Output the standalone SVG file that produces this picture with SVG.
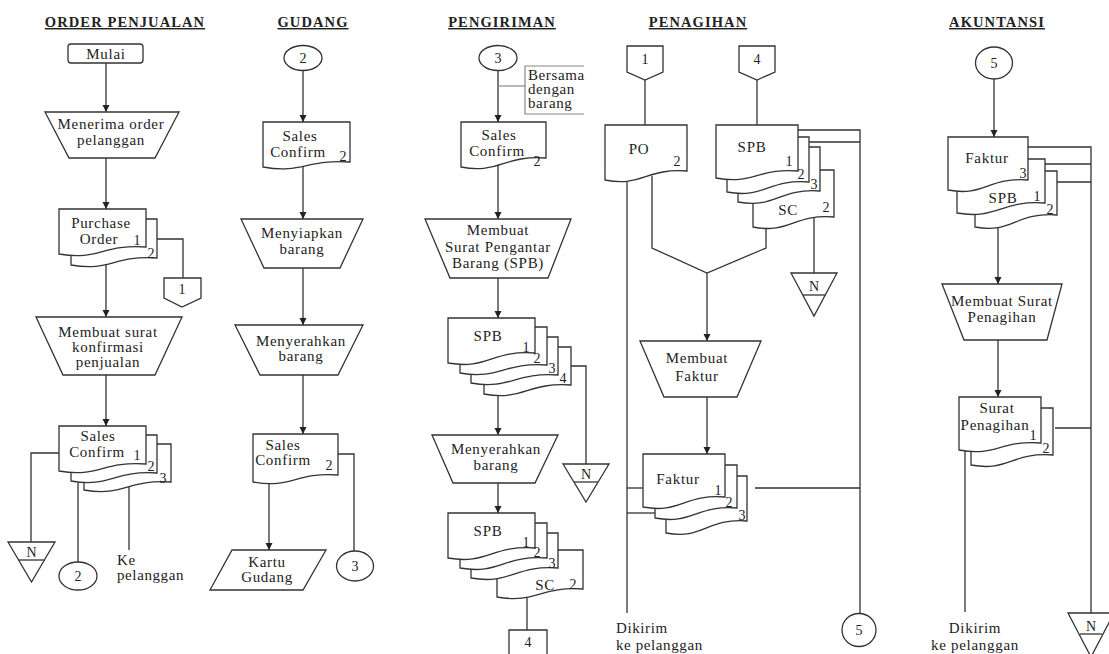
<svg xmlns="http://www.w3.org/2000/svg" width="1109" height="654" viewBox="0 0 1109 654">
<defs>
<marker id="ah" markerUnits="userSpaceOnUse" markerWidth="8" markerHeight="8" refX="7" refY="4" orient="auto">
<path d="M0,0.5 L7,4 L0,7.5 z" fill="#222"/>
</marker>
</defs>
<style>
.s{fill:#fff;stroke:#333;stroke-width:1.3}
.l{fill:none;stroke:#333;stroke-width:1.3}
.la{fill:none;stroke:#333;stroke-width:1.3;marker-end:url(#ah)}
.g{fill:none;stroke:#888;stroke-width:1.2}
text{font-family:"Liberation Serif","DejaVu Serif","Times New Roman",serif;fill:#222}
.t{font-size:15px;text-anchor:middle;letter-spacing:0.7px}
.ts{font-size:15px;letter-spacing:0.6px}
.n{font-size:14px;text-anchor:middle}
.h{font-size:14.5px;font-weight:bold;text-anchor:middle;text-decoration:underline;letter-spacing:1.1px}
</style>
<rect width="1109" height="654" fill="#fff"/>

<g id="titles">
<text class="h" x="125" y="27">ORDER PENJUALAN</text>
<text class="h" x="313" y="27">GUDANG</text>
<text class="h" x="502" y="27">PENGIRIMAN</text>
<text class="h" x="698" y="27">PENAGIHAN</text>
<text class="h" x="997" y="27">AKUNTANSI</text>
</g>

<g id="connectors">
<!-- column 1 -->
<line class="la" x1="106" y1="63" x2="106" y2="112"/>
<line class="la" x1="106" y1="158" x2="106" y2="209"/>
<polyline class="l" points="157,239 183,239 183,278"/>
<line class="la" x1="106" y1="264" x2="106" y2="317"/>
<line class="la" x1="106" y1="375" x2="106" y2="426"/>
<polyline class="l" points="59,453 31,453 31,542"/>
<line class="l" x1="78" y1="483" x2="78" y2="562"/>
<line class="l" x1="129" y1="485" x2="129" y2="550"/>
<!-- column 2 -->
<line class="la" x1="303" y1="70" x2="303" y2="122"/>
<line class="la" x1="303" y1="164" x2="303" y2="219"/>
<line class="la" x1="303" y1="268" x2="303" y2="325"/>
<line class="la" x1="303" y1="375" x2="303" y2="434"/>
<polyline class="l" points="338,454 354,454 354,551"/>
<line class="la" x1="269" y1="482" x2="269" y2="550"/>
<!-- column 3 -->
<line class="la" x1="498" y1="70" x2="498" y2="122"/>
<line class="g" x1="498" y1="86" x2="525" y2="86"/>
<polyline class="g" points="584,66 525,66 525,114 584,114"/>
<line class="la" x1="498" y1="165" x2="498" y2="219"/>
<line class="la" x1="498" y1="278" x2="498" y2="318"/>
<polyline class="l" points="571,366 586,366 586,464"/>
<line class="la" x1="498" y1="393" x2="498" y2="435"/>
<line class="la" x1="498" y1="483" x2="498" y2="513"/>
<line class="l" x1="527" y1="594" x2="527" y2="630"/>
<!-- column 4 -->
<line class="l" x1="645" y1="80" x2="645" y2="125"/>
<line class="l" x1="757" y1="80" x2="757" y2="125"/>
<polyline class="l" points="798,130 860,130 860,613"/>
<line class="l" x1="809" y1="142" x2="860" y2="142"/>
<line class="l" x1="627" y1="180" x2="627" y2="613"/>
<polyline class="l" points="652,176 652,248 707,273 766,248 766,226"/>
<line class="la" x1="707" y1="273" x2="707" y2="341"/>
<line class="l" x1="814" y1="216" x2="814" y2="273"/>
<line class="la" x1="707" y1="397" x2="707" y2="454"/>
<line class="l" x1="627" y1="488" x2="643" y2="488"/>
<line class="l" x1="627" y1="513" x2="655" y2="513"/>
<line class="l" x1="755" y1="488" x2="860" y2="488"/>
<!-- column 5 -->
<line class="la" x1="994" y1="79" x2="994" y2="137"/>
<polyline class="l" points="1028,147 1091,147 1091,613"/>
<line class="l" x1="1045" y1="164" x2="1091" y2="164"/>
<line class="l" x1="1057" y1="182" x2="1091" y2="182"/>
<line class="la" x1="998" y1="225" x2="998" y2="284"/>
<line class="la" x1="998" y1="340" x2="998" y2="397"/>
<line class="l" x1="1055" y1="428" x2="1091" y2="428"/>
<line class="l" x1="965" y1="451" x2="965" y2="612"/>
</g>

<!-- ORDER PENJUALAN -->
<g id="mulai">
<rect class="s" x="68" y="44" width="75" height="19" rx="3"/>
<text class="t" x="106" y="59">Mulai</text>
</g>
<g id="menerima-order">
<polygon class="s" points="45,112 179,112 155,158 69,158"/>
<text class="t" x="111" y="129">Menerima order</text>
<text class="t" x="111" y="145">pelanggan</text>
</g>
<g id="purchase-order">
<path class="s" d="M71,219 H157 V258 C114,255 109.7,272 71,265 Z"/>
<path class="s" d="M59,209 H146 V247 C102.5,244 98.2,261 59,254 Z"/>
<text class="t" x="101" y="228">Purchase</text>
<text class="t" x="99" y="244">Order</text>
<text class="n" x="137" y="245">1</text>
<text class="n" x="151" y="258">2</text>
</g>
<g id="offpage-1a">
<polygon class="s" points="164,278 201,278 201,298 182,307 164,298"/>
<text class="n" x="182" y="294">1</text>
</g>
<g id="membuat-surat-konfirmasi">
<polygon class="s" points="36,317 182,317 155,375 63,375"/>
<text class="t" x="108" y="337">Membuat surat</text>
<text class="t" x="108" y="352">konfirmasi</text>
<text class="t" x="108" y="367">penjualan</text>
</g>
<g id="sales-confirm-1">
<path class="s" d="M84,444 H171 V482 C127.5,479 123.2,497 84,490 Z"/>
<path class="s" d="M71,435 H157 V473 C114,470 109.7,488 71,481 Z"/>
<path class="s" d="M59,426 H146 V464 C102.5,461 98.2,478 59,471 Z"/>
<text class="t" x="98" y="441">Sales</text>
<text class="t" x="97" y="457">Confirm</text>
<text class="n" x="137" y="460">1</text>
<text class="n" x="151" y="471">2</text>
<text class="n" x="163" y="483">3</text>
</g>
<g id="arsip-n-1">
<polygon class="s" points="8,542 55,542 31.5,582"/>
<line class="l" x1="18" y1="560" x2="45" y2="560"/>
<text class="n" x="31.5" y="557">N</text>
</g>
<g id="connector-2a">
<ellipse class="s" cx="78" cy="576" rx="19" ry="14"/>
<text class="n" x="78" y="581">2</text>
</g>
<g id="ke-pelanggan-1">
<text class="ts" x="117" y="565">Ke</text>
<text class="ts" x="117" y="580">pelanggan</text>
</g>

<!-- GUDANG -->
<g id="connector-2b">
<ellipse class="s" cx="303" cy="58" rx="19" ry="12.5"/>
<text class="n" x="303" y="63">2</text>
</g>
<g id="sales-confirm-2a">
<path class="s" d="M263,122 H350 V162 C306.5,159 302.2,174 263,167 Z"/>
<text class="t" x="300" y="141">Sales</text>
<text class="t" x="298" y="157">Confirm</text>
<text class="n" x="343" y="161">2</text>
</g>
<g id="menyiapkan-barang">
<polygon class="s" points="241,219 363,219 340,268 264,268"/>
<text class="t" x="302" y="238">Menyiapkan</text>
<text class="t" x="302" y="254">barang</text>
</g>
<g id="menyerahkan-barang-1">
<polygon class="s" points="235,325 363,325 338,375 260,375"/>
<text class="t" x="301" y="346">Menyerahkan</text>
<text class="t" x="301" y="361">barang</text>
</g>
<g id="sales-confirm-2b">
<path class="s" d="M253,434 H338 V475 C295.5,472 291.3,489 253,482 Z"/>
<text class="t" x="283" y="450">Sales</text>
<text class="t" x="283" y="465">Confirm</text>
<text class="n" x="329" y="470">2</text>
</g>
<g id="connector-3a">
<ellipse class="s" cx="355" cy="566" rx="18.5" ry="15"/>
<text class="n" x="355" y="571">3</text>
</g>
<g id="kartu-gudang">
<polygon class="s" points="232,550 326,550 303,590 210,590"/>
<text class="t" x="267" y="567">Kartu</text>
<text class="t" x="267" y="582">Gudang</text>
</g>

<!-- PENGIRIMAN -->
<g id="connector-3b">
<ellipse class="s" cx="498" cy="58" rx="19" ry="12.5"/>
<text class="n" x="498" y="63">3</text>
</g>
<g id="bersama-dengan-barang">
<text class="ts" x="528" y="80">Bersama</text>
<text class="ts" x="528" y="94">dengan</text>
<text class="ts" x="528" y="108">barang</text>
</g>
<g id="sales-confirm-3">
<path class="s" d="M461,122 H546 V158 C503.5,155 499.3,174 461,167 Z"/>
<text class="t" x="499" y="140">Sales</text>
<text class="t" x="497" y="156">Confirm</text>
<text class="n" x="537" y="166">2</text>
</g>
<g id="membuat-spb">
<polygon class="s" points="425,219 571,219 548,278 450,278"/>
<text class="t" x="498" y="235">Membuat</text>
<text class="t" x="498" y="252">Surat Pengantar</text>
<text class="t" x="498" y="268">Barang (SPB)</text>
</g>
<g id="spb-1">
<path class="s" d="M484,347 H571 V385 C527.5,382 523.2,401 484,394 Z"/>
<path class="s" d="M471,337 H558 V375 C514.5,372 510.2,390 471,383 Z"/>
<path class="s" d="M460,327 H547 V365 C503.5,362 499.2,380 460,373 Z"/>
<path class="s" d="M448,318 H535 V353 C491.5,350 487.2,370 448,363 Z"/>
<text class="t" x="488" y="341">SPB</text>
<text class="n" x="526" y="352">1</text>
<text class="n" x="537" y="363">2</text>
<text class="n" x="552" y="373">3</text>
<text class="n" x="563" y="383">4</text>
</g>
<g id="arsip-n-3">
<polygon class="s" points="563,464 609,464 586,502"/>
<line class="l" x1="574" y1="482" x2="598" y2="482"/>
<text class="n" x="586" y="479">N</text>
</g>
<g id="menyerahkan-barang-2">
<polygon class="s" points="432,435 558,435 535,483 453,483"/>
<text class="t" x="496" y="454">Menyerahkan</text>
<text class="t" x="496" y="470">barang</text>
</g>
<g id="spb-2">
<path class="s" d="M497,550 H583 V589 C540,586 535.7,604 497,597 Z"/>
<path class="s" d="M471,533 H558 V568 C514.5,565 510.2,585 471,578 Z"/>
<path class="s" d="M460,523 H547 V558 C503.5,555 499.2,575 460,568 Z"/>
<path class="s" d="M448,513 H535 V548 C491.5,545 487.2,565 448,558 Z"/>
<text class="t" x="488" y="536">SPB</text>
<text class="n" x="526" y="547">1</text>
<text class="n" x="537" y="557">2</text>
<text class="n" x="552" y="568">3</text>
<text class="t" x="545" y="590">SC</text>
<text class="n" x="573" y="589">2</text>
</g>
<g id="offpage-4a">
<polygon class="s" points="509,630 547,630 547,662 528,670 509,662"/>
<text class="n" x="528" y="647">4</text>
</g>

<!-- PENAGIHAN -->
<g id="offpage-1b">
<polygon class="s" points="627,46 663,46 663,72 645,80 627,72"/>
<text class="n" x="645" y="64">1</text>
</g>
<g id="offpage-4b">
<polygon class="s" points="739,46 775,46 775,72 757,80 739,72"/>
<text class="n" x="757" y="64">4</text>
</g>
<g id="po">
<path class="s" d="M605,125 H687 V171 C646,168 641.9,187 605,180 Z"/>
<text class="t" x="639" y="154">PO</text>
<text class="n" x="677" y="166">2</text>
</g>
<g id="spb-sc">
<path class="s" d="M753,170 H834 V217 C793.5,214 789.5,234 753,227 Z"/>
<path class="s" d="M738,147 H820 V191 C779,188 774.9,209 738,202 Z"/>
<path class="s" d="M727,137 H809 V182 C768,179 763.9,199 727,192 Z"/>
<path class="s" d="M716,125 H798 V171 C757,168 752.9,185 716,178 Z"/>
<text class="t" x="752" y="152">SPB</text>
<text class="n" x="789" y="166">1</text>
<text class="n" x="801" y="179">2</text>
<text class="n" x="814" y="189">3</text>
<text class="t" x="788" y="215">SC</text>
<text class="n" x="826" y="212">2</text>
</g>
<g id="arsip-n-4">
<polygon class="s" points="791,273 837,273 814,316"/>
<line class="l" x1="803" y1="295" x2="825" y2="295"/>
<text class="n" x="814" y="291">N</text>
</g>
<g id="membuat-faktur">
<polygon class="s" points="640,341 761,341 737,397 664,397"/>
<text class="t" x="697" y="363">Membuat</text>
<text class="t" x="697" y="381">Faktur</text>
</g>
<g id="faktur-1">
<path class="s" d="M666,476 H747 V521 C706.5,518 702.5,540 666,533 Z"/>
<path class="s" d="M655,465 H737 V508 C696,505 691.9,525 655,518 Z"/>
<path class="s" d="M643,454 H725 V497 C684,494 679.9,514 643,507 Z"/>
<text class="t" x="678" y="484">Faktur</text>
<text class="n" x="718" y="495">1</text>
<text class="n" x="729" y="507">2</text>
<text class="n" x="742" y="520">3</text>
</g>
<g id="connector-5a">
<ellipse class="s" cx="859" cy="630" rx="17" ry="16.5"/>
<text class="n" x="859" y="635">5</text>
</g>
<g id="dikirim-1">
<text class="ts" x="616" y="633">Dikirim</text>
<text class="ts" x="616" y="650">ke pelanggan</text>
</g>

<!-- AKUNTANSI -->
<g id="connector-5b">
<ellipse class="s" cx="994" cy="63" rx="18.5" ry="16"/>
<text class="n" x="994" y="68">5</text>
</g>
<g id="faktur-spb">
<path class="s" d="M975,171 H1057 V215 C1016,212 1011.9,234 975,227 Z"/>
<path class="s" d="M957,159 H1045 V203 C1001,200 996.6,220 957,213 Z"/>
<path class="s" d="M948,137 H1028 V180 C988,177 984,197 948,190 Z"/>
<text class="t" x="987" y="163">Faktur</text>
<text class="n" x="1023" y="178">3</text>
<text class="t" x="1003" y="203">SPB</text>
<text class="n" x="1037" y="201">1</text>
<text class="n" x="1050" y="214">2</text>
</g>
<g id="membuat-surat-penagihan">
<polygon class="s" points="942,284 1062,284 1047,340 964,340"/>
<text class="t" x="1002" y="306">Membuat Surat</text>
<text class="t" x="1002" y="322">Penagihan</text>
</g>
<g id="surat-penagihan">
<path class="s" d="M971,408 H1053 V455 C1012,452 1007.9,472 971,465 Z"/>
<path class="s" d="M959,397 H1041 V443 C1000,440 995.9,457 959,450 Z"/>
<text class="t" x="997" y="413">Surat</text>
<text class="t" x="995" y="430">Penagihan</text>
<text class="n" x="1033" y="440">1</text>
<text class="n" x="1046" y="453">2</text>
</g>
<g id="arsip-n-5">
<polygon class="s" points="1068,613 1114,613 1091,657"/>
<line class="l" x1="1080" y1="634" x2="1102" y2="634"/>
<text class="n" x="1091" y="631">N</text>
</g>
<g id="dikirim-2">
<text class="t" x="975" y="633">Dikirim</text>
<text class="t" x="975" y="650">ke pelanggan</text>
</g>
</svg>
